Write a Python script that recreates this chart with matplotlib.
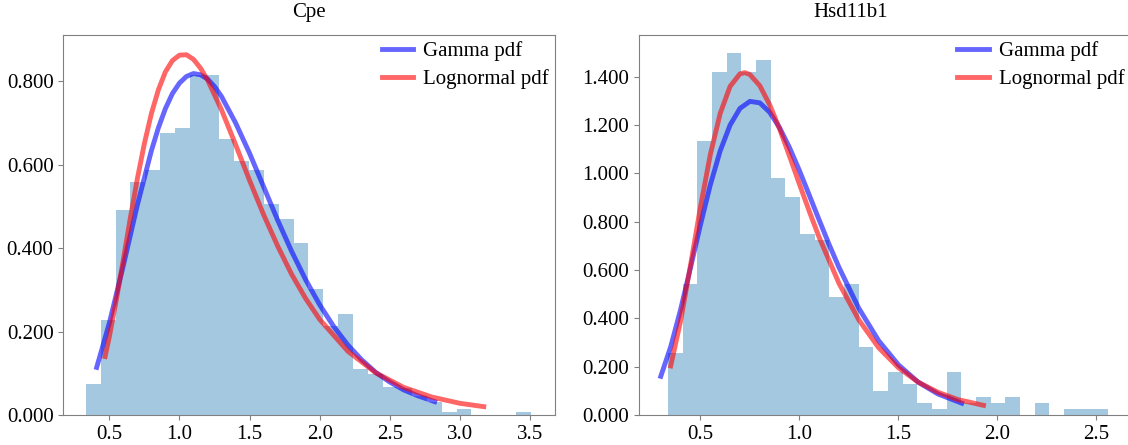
import numpy as np
import matplotlib
matplotlib.use("Agg")
import matplotlib.pyplot as plt
from matplotlib.ticker import FormatStrFormatter, MultipleLocator

plt.rcParams['font.family'] = ['Liberation Serif', 'DejaVu Serif']

# ---- Cpe ----
cpe_start, cpe_width = 0.334, 0.1057
cpe_hist = [0.074, 0.228, 0.490, 0.557, 0.586, 0.675, 0.688, 0.814, 0.814, 0.661,
            0.608, 0.586, 0.506, 0.469, 0.411, 0.302, 0.213, 0.242, 0.111, 0.098,
            0.068, 0.064, 0.045, 0.030, 0.0075, 0.015, 0.0, 0.0, 0.0, 0.0075]

cpe_gamma_x = [0.41, 0.5, 0.6, 0.7, 0.8, 0.85, 0.9, 0.95, 1.0, 1.05, 1.1, 1.15, 1.2,
               1.25, 1.3, 1.4, 1.5, 1.6, 1.7, 1.8, 1.9, 2.0, 2.1, 2.2, 2.3, 2.4,
               2.5, 2.6, 2.7, 2.82]
cpe_gamma_y = [0.114, 0.220, 0.358, 0.503, 0.633, 0.688, 0.734, 0.770, 0.795, 0.811,
               0.818, 0.815, 0.805, 0.787, 0.763, 0.700, 0.627, 0.547, 0.467, 0.392,
               0.324, 0.264, 0.212, 0.168, 0.132, 0.102, 0.079, 0.060, 0.046, 0.032]

cpe_logn_x = [0.47, 0.5, 0.55, 0.6, 0.65, 0.7, 0.75, 0.8, 0.85, 0.9, 0.95, 1.0, 1.05,
              1.1, 1.15, 1.2, 1.3, 1.4, 1.5, 1.6, 1.7, 1.8, 1.9, 2.0, 2.2, 2.4, 2.6,
              2.8, 3.0, 3.17]
cpe_logn_y = [0.140, 0.187, 0.276, 0.372, 0.472, 0.566, 0.650, 0.722, 0.779, 0.822,
              0.849, 0.862, 0.863, 0.852, 0.831, 0.803, 0.731, 0.648, 0.562, 0.480,
              0.405, 0.337, 0.279, 0.229, 0.153, 0.101, 0.066, 0.043, 0.028, 0.020]

# ---- Hsd11b1 ----
hsd_start, hsd_width = 0.336, 0.07407
hsd_hist = [0.258, 0.542, 1.135, 1.418, 1.497, 1.418, 1.471, 0.982, 0.904, 0.749,
            0.724, 0.490, 0.542, 0.283, 0.101, 0.178, 0.127, 0.049, 0.024, 0.178,
            0.049, 0.075, 0.049, 0.075, 0.0, 0.049, 0.0, 0.024, 0.024, 0.024]

hsd_gamma_x = [0.30, 0.35, 0.4, 0.45, 0.5, 0.55, 0.6, 0.65, 0.7, 0.75, 0.8, 0.85,
               0.9, 0.95, 1.0, 1.05, 1.1, 1.15, 1.2, 1.3, 1.4, 1.5, 1.6, 1.7, 1.82]
hsd_gamma_y = [0.160, 0.282, 0.436, 0.609, 0.786, 0.952, 1.093, 1.200, 1.269, 1.298,
               1.292, 1.253, 1.189, 1.107, 1.012, 0.910, 0.807, 0.706, 0.611, 0.442,
               0.308, 0.208, 0.136, 0.087, 0.049]

hsd_logn_x = [0.35, 0.4, 0.45, 0.5, 0.55, 0.6, 0.65, 0.7, 0.725, 0.75, 0.8, 0.85,
              0.9, 0.95, 1.0, 1.05, 1.1, 1.2, 1.3, 1.4, 1.5, 1.6, 1.7, 1.8, 1.93]
hsd_logn_y = [0.203, 0.389, 0.619, 0.859, 1.077, 1.248, 1.360, 1.412, 1.417, 1.409,
              1.363, 1.284, 1.184, 1.072, 0.956, 0.843, 0.735, 0.545, 0.394, 0.279,
              0.196, 0.136, 0.094, 0.064, 0.040]

panels = [
    ("Cpe", cpe_start, cpe_width, cpe_hist, cpe_gamma_x, cpe_gamma_y,
     cpe_logn_x, cpe_logn_y, (0.172, 3.680), (0, 0.911), 0.5),
    ("Hsd11b1", hsd_start, hsd_width, hsd_hist, hsd_gamma_x, hsd_gamma_y,
     hsd_logn_x, hsd_logn_y, (0.19, 2.675), (0, 1.574), 0.43),
]

fig = plt.figure(figsize=(11.28, 4.45), dpi=100)
lefts = [63.3 / 1128, 639 / 1128]

for left, (title, start, width, hist, gx, gy, lx, ly, xlim, ylim, tx) in zip(lefts, panels):
    ax = fig.add_axes([left, 30 / 445, 492 / 1128, 380.3 / 445])
    edges = start + width * np.arange(len(hist))
    ax.bar(edges, hist, width=width, align='edge', color='C0', alpha=0.4, linewidth=0)
    ax.plot(gx, gy, 'b-', lw=3.5, alpha=0.6, label='Gamma pdf')
    ax.plot(lx, ly, 'r-', lw=3.5, alpha=0.6, label='Lognormal pdf')
    ax.set_xlim(*xlim)
    ax.set_ylim(*ylim)
    ax.xaxis.set_major_locator(MultipleLocator(0.5))
    ax.xaxis.set_major_formatter(FormatStrFormatter('%.1f'))
    ax.yaxis.set_major_locator(MultipleLocator(0.2))
    ax.yaxis.set_major_formatter(FormatStrFormatter('%.3f'))
    ax.set_title(title, fontsize=15, pad=13, x=tx)
    ax.tick_params(labelsize=15, color='gray')
    for sp in ax.spines.values():
        sp.set_color('gray')
    ax.legend(loc='upper right', frameon=False, fontsize=15, handlelength=1.5,
              handletextpad=0.5, labelspacing=0.4, borderpad=0.1, borderaxespad=0.2)

fig.savefig('out.png', dpi=100)
